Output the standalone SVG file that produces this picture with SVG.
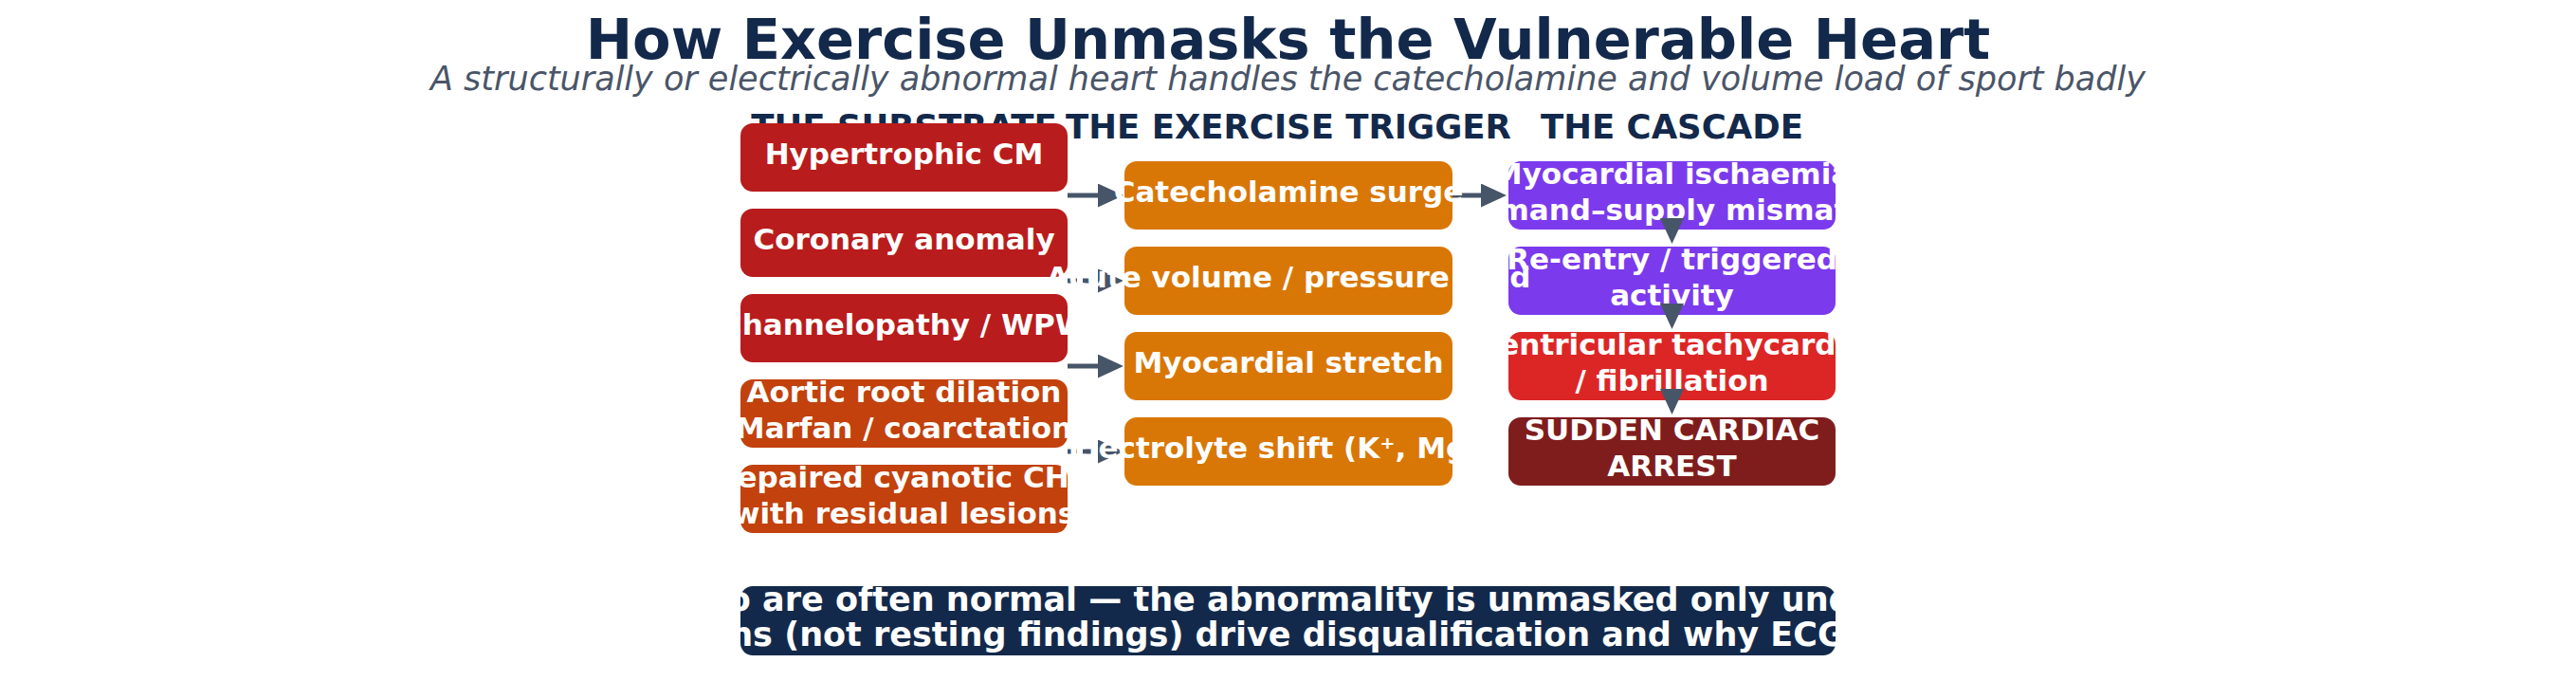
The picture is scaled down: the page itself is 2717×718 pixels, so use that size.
<svg xmlns="http://www.w3.org/2000/svg" width="2717" height="718" viewBox="0 0 2717 718">
<defs>
<style>
text{font-family:"DejaVu Sans","Liberation Sans",sans-serif;}
.title{font-size:59px;font-weight:700;fill:#13294b;text-anchor:middle;}
.sub{font-size:35px;font-style:italic;fill:#4a5568;text-anchor:middle;}
.hdr{font-size:35.5px;font-weight:700;fill:#13294b;text-anchor:middle;}
.lbl{font-size:31px;font-weight:700;fill:#ffffff;text-anchor:middle;}
.ban{font-size:35px;font-weight:700;fill:#ffffff;text-anchor:middle;}
.sub-red{fill:#b91c1c;}
.sub-org{fill:#c2410c;}
.trg{fill:#d97706;}
.casc-p{fill:#7c3aed;}
.casc-r{fill:#dc2626;}
.casc-d{fill:#7f1d1d;}
.banner{fill:#13294b;}
.conn{stroke:#475569;stroke-width:5;fill:none;marker-end:url(#ah);}
.dash{stroke-dasharray:10 6;}
</style>
<marker id="ah" markerUnits="userSpaceOnUse" viewBox="0 0 27 25" markerWidth="27" markerHeight="25" refX="21" refY="12.5" orient="auto">
<path d="M0,0 L27,12.5 L0,25 Z" fill="#475569"/>
</marker>
</defs>
<rect width="2717" height="718" fill="#ffffff"/>
<g id="titles">
<text class="title" x="1358.5" y="62">How Exercise Unmasks the Vulnerable Heart</text>
<text class="sub" x="1358.5" y="95">A structurally or electrically abnormal heart handles the catecholamine and volume load of sport badly</text>
</g>
<g id="headers">
<text class="hdr" x="953.5" y="146">THE SUBSTRATE</text>
<text class="hdr" x="1359" y="146">THE EXERCISE TRIGGER</text>
<text class="hdr" x="1763.5" y="146">THE CASCADE</text>
</g>
<g id="substrate">
<g id="s-hcm"><rect class="sub-red" x="781" y="130" width="345" height="72" rx="13"/><text class="lbl" x="953.5" y="173">Hypertrophic CM</text></g>
<g id="s-coronary"><rect class="sub-red" x="781" y="220" width="345" height="72" rx="13"/><text class="lbl" x="953.5" y="263">Coronary anomaly</text></g>
<g id="s-channel"><rect class="sub-red" x="781" y="310" width="345" height="72" rx="13"/><text class="lbl" x="953.5" y="353">Channelopathy / WPW</text></g>
<g id="s-aortic"><rect class="sub-org" x="781" y="400" width="345" height="72" rx="13"/><text class="lbl"><tspan x="953.5" y="424">Aortic root dilation</tspan><tspan x="953.5" y="462">(Marfan / coarctation)</tspan></text></g>
<g id="s-chd"><rect class="sub-org" x="781" y="490" width="345" height="72" rx="13"/><text class="lbl"><tspan x="953.5" y="514">Repaired cyanotic CHD</tspan><tspan x="953.5" y="552">with residual lesions</tspan></text></g>
</g>
<g id="cascade">
<g id="c-ischaemia"><rect class="casc-p" x="1591" y="170" width="345" height="72" rx="13"/><text class="lbl"><tspan x="1763.5" y="194">Myocardial ischaemia</tspan><tspan x="1763.5" y="232">(demand–supply mismatch)</tspan></text></g>
<g id="c-reentry"><rect class="casc-p" x="1591" y="260" width="345" height="72" rx="13"/><text class="lbl"><tspan x="1763.5" y="284">Re-entry / triggered</tspan><tspan x="1763.5" y="322">activity</tspan></text></g>
<g id="c-vtvf"><rect class="casc-r" x="1591" y="350" width="345" height="72" rx="13"/><text class="lbl"><tspan x="1763.5" y="374">Ventricular tachycardia</tspan><tspan x="1763.5" y="412">/ fibrillation</tspan></text></g>
<g id="c-sca"><rect class="casc-d" x="1591" y="440" width="345" height="72" rx="13"/><text class="lbl"><tspan x="1763.5" y="464">SUDDEN CARDIAC</tspan><tspan x="1763.5" y="502">ARREST</tspan></text></g>
</g>
<g id="connectors">
<path class="conn" d="M1126,206 L1179,206"/>
<path class="conn dash" d="M1126,296 L1179,296"/>
<path class="conn" d="M1126,386 L1179,386"/>
<path class="conn dash" d="M1126,476 L1179,476"/>
<path class="conn" d="M1532,206 L1583,206"/>
<path class="conn" d="M1763.5,242 L1763.5,251"/>
<path class="conn" d="M1763.5,332 L1763.5,341"/>
<path class="conn" d="M1763.5,422 L1763.5,431"/>
</g>
<g id="trigger">
<g id="t-catechol"><rect class="trg" x="1186" y="170" width="346" height="72" rx="13"/><text class="lbl" x="1359" y="213">Catecholamine surge</text></g>
<g id="t-volume"><rect class="trg" x="1186" y="260" width="346" height="72" rx="13"/><text class="lbl" x="1359" y="303">Acute volume / pressure load</text></g>
<g id="t-stretch"><rect class="trg" x="1186" y="350" width="346" height="72" rx="13"/><text class="lbl" x="1359" y="393">Myocardial stretch</text></g>
<g id="t-electrolyte"><rect class="trg" x="1186" y="440" width="346" height="72" rx="13"/><text class="lbl" x="1359" y="483">Electrolyte shift (K⁺, Mg²⁺)</text></g>
</g>
<g id="banner">
<rect class="banner" x="781" y="618" width="1155" height="73" rx="13"/>
<text class="ban"><tspan x="1358.5" y="644">Resting ECG and echo are often normal — the abnormality is unmasked only under exertion, which is</tspan><tspan x="1358.5" y="681">why the conditions (not resting findings) drive disqualification and why ECG screening is key</tspan></text>
</g>
</svg>
